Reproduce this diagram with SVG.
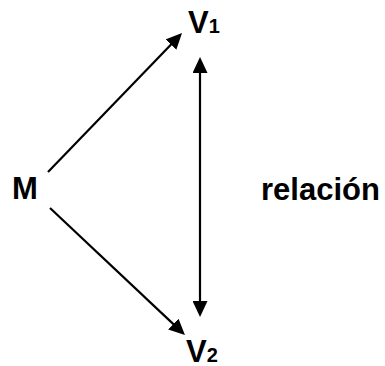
<svg xmlns="http://www.w3.org/2000/svg" width="385" height="366" viewBox="0 0 385 366">
  <style>
    .lbl { font-family: "Liberation Sans", Arial, sans-serif; font-weight: bold; font-size: 31px; fill: #000; }
    .sub { font-size: 20px; }
    .conn { stroke: #000; stroke-width: 2.2; fill: none; }
  </style>
  <defs>
    <marker id="arrow" markerUnits="userSpaceOnUse" markerWidth="16" markerHeight="15" refX="3" refY="7.5" orient="auto-start-reverse">
      <path d="M0,0 L16,7.5 L0,15 z" fill="#000"/>
    </marker>
  </defs>
  <rect width="385" height="366" fill="#fff"/>
  <g id="connectors">
    <line class="conn" x1="48" y1="172" x2="173" y2="42.4" marker-end="url(#arrow)"/>
    <line class="conn" x1="50" y1="208" x2="175.5" y2="326.1" marker-end="url(#arrow)"/>
    <line class="conn" x1="200" y1="70" x2="200" y2="304" marker-start="url(#arrow)" marker-end="url(#arrow)"/>
  </g>
  <g id="M"><text class="lbl" x="12" y="199">M</text></g>
  <g id="V1"><text class="lbl" x="188" y="33">V<tspan class="sub">1</tspan></text></g>
  <g id="V2"><text class="lbl" x="186" y="362">V<tspan class="sub">2</tspan></text></g>
  <g id="relacion"><text class="lbl" x="261" y="200">relación</text></g>
</svg>
